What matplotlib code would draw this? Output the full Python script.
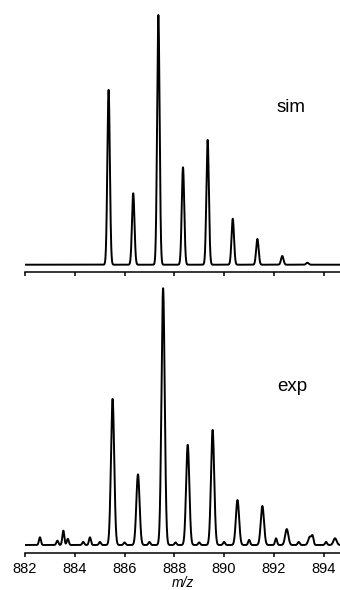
import numpy as np
import matplotlib
matplotlib.use("Agg")
import matplotlib.pyplot as plt

plt.rcParams['font.family'] = ['Liberation Sans', 'DejaVu Sans']

# simulated isotope pattern: peak centres (m/z) and relative heights
sim_mz = [885.36, 886.35, 887.36, 888.35, 889.34, 890.35, 891.34, 892.34, 893.35]
sim_int = [0.70, 0.286, 1.0, 0.39, 0.50, 0.184, 0.103, 0.035, 0.008]

# experimental pattern
exp_mz = [885.52, 886.54, 887.55, 888.54, 889.54, 890.54, 891.54, 892.52, 893.45, 894.46]
exp_int = [0.569, 0.275, 1.0, 0.39, 0.448, 0.175, 0.152, 0.062, 0.032, 0.026]

# small noise bumps along the experimental baseline
noise_mz = [882.6, 883.3, 883.54, 883.72, 884.34, 884.61, 885.01, 886.0, 887.0,
            888.05, 889.0, 890.0, 891.01, 892.09, 893.0, 893.56, 894.1]
noise_int = [0.03, 0.017, 0.056, 0.024, 0.012, 0.03, 0.012, 0.01, 0.012,
             0.01, 0.01, 0.012, 0.02, 0.026, 0.012, 0.03, 0.012]

xticks = [882, 884, 886, 888, 890, 892, 894]
xmin, xmax = 882, 894.66


def profile(x, centres, heights, width):
    y = np.zeros_like(x)
    for c, h in zip(centres, heights):
        y += h * np.exp(-0.5 * ((x - c) / width) ** 2)
    return y


x = np.linspace(xmin, xmax, 6000)
y_sim = profile(x, sim_mz, sim_int, 0.05)
y_exp = profile(x, exp_mz, exp_int, 0.065) + profile(x, noise_mz, noise_int, 0.04)

fig = plt.figure(figsize=(3.4, 5.9), dpi=100)
ax1 = fig.add_axes([25 / 340, (590 - 272.3) / 590, 315 / 340, 272.3 / 590])
ax2 = fig.add_axes([25 / 340, (590 - 552.7) / 590, 315 / 340, (552.7 - 280) / 590])

ax1.plot(x, y_sim, color='black', lw=1.4)
ax1.set_ylim(-0.0304, 1.06)
ax1.text(892.12, 0.613, 'sim', fontsize=13.5, ha='left', va='baseline')

ax2.plot(x, y_exp, color='black', lw=1.4)
ax2.set_ylim(-0.030, 1.032)
ax2.text(892.14, 0.600, 'exp', fontsize=13.5, ha='left', va='baseline')
ax2.set_xlabel('m/z', fontsize=10, style='italic', labelpad=0)

for ax in (ax1, ax2):
    ax.set_xlim(xmin, xmax)
    ax.set_xticks(xticks)
    ax.set_yticks([])
    for side in ('top', 'left', 'right'):
        ax.spines[side].set_visible(False)
    ax.spines['bottom'].set_linewidth(1.1)
    ax.tick_params(axis='x', direction='out', length=3, width=1.1,
                   labelsize=10.5, pad=4)
    ax.patch.set_alpha(0)

ax1.tick_params(axis='x', labelbottom=False)

fig.savefig('out.png', dpi=100)
